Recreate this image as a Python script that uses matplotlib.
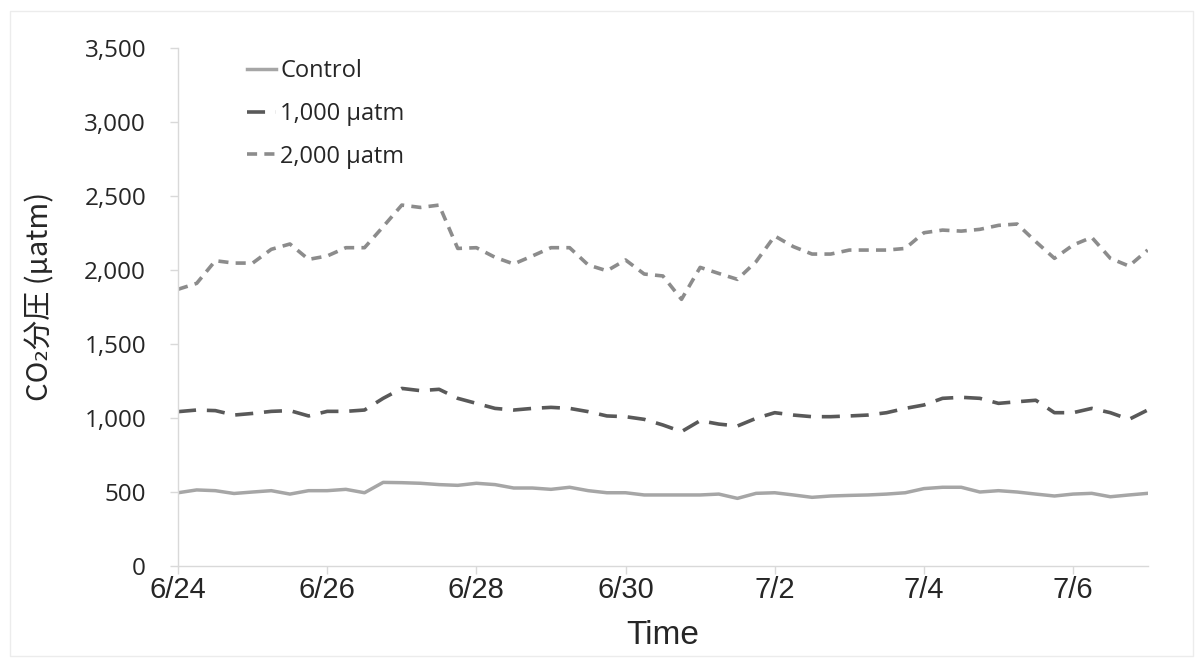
import matplotlib
matplotlib.use("Agg")
import matplotlib.pyplot as plt
import numpy as np
import pandas as pd

# ── data (6-hourly readings, 6/24 00:00 → 7/7 00:00) ─────────────────────────
start = "2017-06-24"
n_pts = 53

control = [495, 514, 509, 490, 500, 509, 486, 509, 509, 518,
           495, 565, 563, 559, 550, 545, 559, 550, 527, 527,
           518, 532, 509, 495, 495, 480, 480, 480, 480, 486,
           457, 491, 495, 480, 464, 473, 477, 480, 486, 495,
           523, 532, 532, 500, 509, 500, 486, 473, 486, 491,
           468, 480, 491]

co2_1000 = [1043, 1054, 1050, 1020, 1031, 1045, 1050, 1014, 1045, 1045,
            1054, 1133, 1200, 1185, 1194, 1133, 1099, 1065, 1054, 1065,
            1072, 1065, 1043, 1014, 1009, 991, 953, 908, 982, 959,
            946, 998, 1036, 1020, 1009, 1009, 1014, 1020, 1036, 1065,
            1088, 1133, 1140, 1133, 1099, 1110, 1120, 1036, 1036, 1065,
            1036, 991, 1054]

co2_2000 = [1870, 1910, 2063, 2047, 2047, 2140, 2176, 2072, 2095, 2151,
            2151, 2293, 2439, 2423, 2439, 2146, 2151, 2086, 2041, 2095,
            2151, 2151, 2034, 1995, 2068, 1973, 1960, 1802, 2018, 1977,
            1937, 2057, 2230, 2158, 2108, 2108, 2135, 2135, 2135, 2146,
            2252, 2270, 2263, 2275, 2302, 2311, 2192, 2079, 2169, 2221,
            2079, 2027, 2135]

tick_dates = ["2017-06-24", "2017-06-26", "2017-06-28", "2017-06-30",
              "2017-07-02", "2017-07-04", "2017-07-06"]
tick_labels = ["6/24", "6/26", "6/28", "6/30", "7/2", "7/4", "7/6"]
y_ticks = [0, 500, 1000, 1500, 2000, 2500, 3000, 3500]

times = pd.date_range(start, periods=n_pts, freq="6h")

# ── style ─────────────────────────────────────────────────────────────────────
AXIS_CLR = "#d9d9d9"
TEXT_CLR = "#262626"
C_CTRL = "#a6a6a6"
C_1000 = "#595959"
C_2000 = "#8c8c8c"
NARROW = ["Liberation Sans Narrow", "Liberation Sans"]

fig = plt.figure(figsize=(12.03, 6.64), dpi=100)
ax = fig.add_axes([0.148, 0.1476, 0.806, 0.780])

ax.plot(times, control, color=C_CTRL, linewidth=2.5, label="Control")
ax.plot(times, co2_1000, color=C_1000, linewidth=2.6,
        dashes=(5.0, 3.0), label="1,000 µatm")
ax.plot(times, co2_2000, color=C_2000, linewidth=2.6,
        dashes=(2.8, 2.0), label="2,000 µatm")

ax.set_xlim(times[0], times[-1])
ax.set_ylim(0, 3500)
ax.set_yticks(y_ticks)
ax.set_yticklabels([f"{v:,}" for v in y_ticks],
                   fontfamily="Open Sans", fontsize=17.5, color=TEXT_CLR)
ax.set_xticks(pd.to_datetime(tick_dates))
ax.set_xticklabels(tick_labels, fontfamily=NARROW, fontsize=21, color=TEXT_CLR)

for side in ["top", "right"]:
    ax.spines[side].set_visible(False)
for side in ["left", "bottom"]:
    ax.spines[side].set_color(AXIS_CLR)
    ax.spines[side].set_linewidth(1.0)
ax.tick_params(axis="both", direction="out", length=6, width=1.0, color=AXIS_CLR)
ax.tick_params(axis="y", pad=17)
ax.tick_params(axis="x", pad=1)

ax.set_xlabel("Time", fontfamily=NARROW, fontsize=24, color=TEXT_CLR, labelpad=12)
ax.set_ylabel("CO₂分圧 (µatm)", fontfamily=["Noto Sans CJK JP", "DejaVu Sans"],
              fontsize=21, color=TEXT_CLR)
ax.yaxis.set_label_coords(-0.127, 0.521)

leg = ax.legend(loc="upper left", bbox_to_anchor=(0.049, 1.02), frameon=False,
                prop={"family": "Open Sans", "size": 17}, handlelength=1.22,
                handletextpad=0.2, labelspacing=0.8, labelcolor=TEXT_CLR)

# faint chart border like the spreadsheet export
fig.patches.append(plt.Rectangle((0.008, 0.012), 0.984, 0.972, transform=fig.transFigure,
                                 fill=False, edgecolor="#ececec", linewidth=1.0))

fig.savefig("out.png", dpi=100, facecolor="white")
